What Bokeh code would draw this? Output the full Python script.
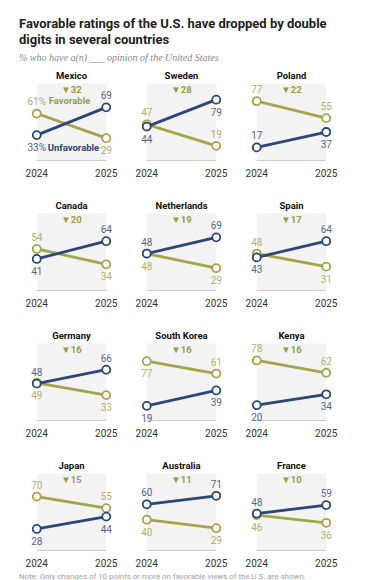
from bokeh.plotting import figure
from bokeh.models import Div, Spacer, Range1d, ColumnDataSource
from bokeh.layouts import column, row
from bokeh.embed import file_html
from bokeh.resources import INLINE
from bokeh.core.properties import value

# ---------------- data ----------------
countries = ["Mexico", "Sweden", "Poland", "Canada", "Netherlands", "Spain",
             "Germany", "South Korea", "Kenya", "Japan", "Australia", "France"]
years = [2024, 2025]
fav_2024 = [61, 47, 77, 54, 48, 48, 49, 77, 78, 70, 40, 46]
fav_2025 = [29, 19, 55, 34, 29, 31, 33, 61, 62, 55, 29, 36]
unfav_2024 = [33, 44, 17, 41, 48, 43, 48, 19, 20, 28, 60, 48]
unfav_2025 = [69, 79, 37, 64, 69, 64, 66, 39, 34, 44, 71, 59]
year_labels = ["2024", "2025"]

title_text = "Favorable ratings of the U.S. have dropped by double<br>digits in several countries"
subtitle_text = "% who have a(n) ___ opinion of the United States"
note_text = "Note: Only changes of 10 points or more on favorable views of the U.S. are shown."

# ---------------- label placement (1 = above point, 0 = below) -------------
# order: fav 2024, fav 2025, unfav 2024, unfav 2025
label_above = [
    (1, 0, 0, 1), (1, 1, 0, 0), (1, 1, 1, 0),
    (1, 0, 0, 1), (0, 0, 1, 1), (1, 0, 0, 1),
    (0, 0, 1, 1), (0, 1, 0, 0), (1, 1, 0, 0),
    (1, 1, 0, 0), (0, 0, 1, 1), (0, 0, 1, 1),
]

# ---------------- styles ----------------
FAV = "#a0a74a"
UNF = "#2b4678"
FAV_TXT = "#b2b072"
UNF_TXT = "#53658a"
FAV_BOLD = "#979e43"
BG = "#f3f3f3"
AXIS = "#cccccc"
FONT = "Roboto"

FRAME_W = 110
SPAN_PX = 69.5
PAD = (FRAME_W - SPAN_PX) / 2 / SPAN_PX
PX_PER_UNIT = 0.77
Y_TOP_PX = 17
Y_MAX = 100 + Y_TOP_PX / PX_PER_UNIT
OFF = 12


def panel(i, frame_h):
    p = figure(frame_width=FRAME_W, frame_height=frame_h,
               x_range=Range1d(years[0] - PAD, years[1] + PAD),
               y_range=Range1d(Y_MAX - frame_h / PX_PER_UNIT, Y_MAX),
               output_backend="svg", toolbar_location=None,
               min_border_left=0, min_border_right=0, min_border_top=0,
               min_border_bottom=0, y_axis_location=None, x_axis_location=None,
               outline_line_color=None)
    p.grid.visible = False

    p.quad(left=[years[0]], right=[years[1]], bottom=[0], top=[100],
           fill_color=BG, line_color=None)
    p.segment(x0=[years[0]], y0=[0], x1=[years[1]], y1=[0],
              line_color=AXIS, line_width=1)
    # year tick labels
    p.text(x=years, y=[0, 0], text=year_labels, y_offset=12,
           text_color="#333333", text_font=value(FONT), text_font_size="10px",
           text_align="center", text_baseline="middle")

    fav = [fav_2024[i], fav_2025[i]]
    unf = [unfav_2024[i], unfav_2025[i]]
    for vals, col in ((fav, FAV), (unf, UNF)):
        p.line(years, vals, line_color=col, line_width=2.8)
        p.scatter(years, vals, size=8, fill_color="white", line_color=col,
                  line_width=1.8)

    side = label_above[i]
    suffix = "%" if i == 0 else ""
    labels = ColumnDataSource(dict(
        x=years + years,
        y=fav + unf,
        t=[f"{fav[0]}{suffix}", f"{fav[1]}", f"{unf[0]}{suffix}", f"{unf[1]}"],
        dy=[-OFF if s else OFF for s in side],
        c=[FAV_TXT, FAV_TXT, UNF_TXT, UNF_TXT],
    ))
    p.text(x="x", y="y", text="t", y_offset="dy", text_color="c",
           source=labels, text_font=value(FONT), text_font_size="10px",
           text_align="center", text_baseline="middle")

    if i == 0:
        p.text(x=[years[0]], y=[fav[0]], text=["Favorable"], x_offset=12,
               y_offset=-OFF - 1, text_color=FAV_BOLD, text_font=value(FONT),
               text_font_style="bold", text_font_size="9.5px",
               text_align="left", text_baseline="middle")
        p.text(x=[years[0]], y=[unf[0]], text=["Unfavorable"], x_offset=11,
               y_offset=OFF, text_color=UNF, text_font=value(FONT),
               text_font_style="bold", text_font_size="9.5px",
               text_align="left", text_baseline="middle")

    mid = (years[0] + years[1]) / 2
    drop = fav[0] - fav[1]
    p.text(x=[mid], y=[100], text=[f"\u25bc{drop}"], y_offset=6,
           text_color=FAV_BOLD, text_font=value(FONT), text_font_style="bold",
           text_font_size="9.5px", text_align="center", text_baseline="middle")
    p.text(x=[mid], y=[100], text=[countries[i]], y_offset=-8,
           text_color="#111111", text_font=value(FONT), text_font_style="bold",
           text_font_size="9.5px", text_align="center", text_baseline="middle")
    return p


rows = []
for r in range(4):
    fh = 130 if r < 3 else 111
    rows.append(row(*[panel(r * 3 + c, fh) for c in range(3)]))
grid = column(*rows)

title = Div(text=f'<div style="font-family:Roboto;font-weight:bold;font-size:13px;'
                 f'line-height:16px;color:#222;white-space:nowrap;">{title_text}</div>',
            margin=(16, 0, 0, 19), width=340)
subtitle = Div(text=f'<div style="font-family:\'Liberation Serif\';font-style:italic;'
                    f'font-size:10px;line-height:12px;color:#8a8a8a;white-space:nowrap;">{subtitle_text}</div>',
               margin=(0, 0, 0, 19), width=340)
note = Div(text=f'<div style="font-family:Roboto;font-size:7.9px;line-height:9px;'
                f'color:#a0a0a0;white-space:nowrap;">{note_text}</div>',
           margin=(0, 0, 0, 19), width=340)

layout = column(title, subtitle,
                row(Spacer(width=16, height=10), grid, margin=(0, 0, 0, 0)),
                note)

open("out.html", "w").write(file_html(layout, INLINE))
